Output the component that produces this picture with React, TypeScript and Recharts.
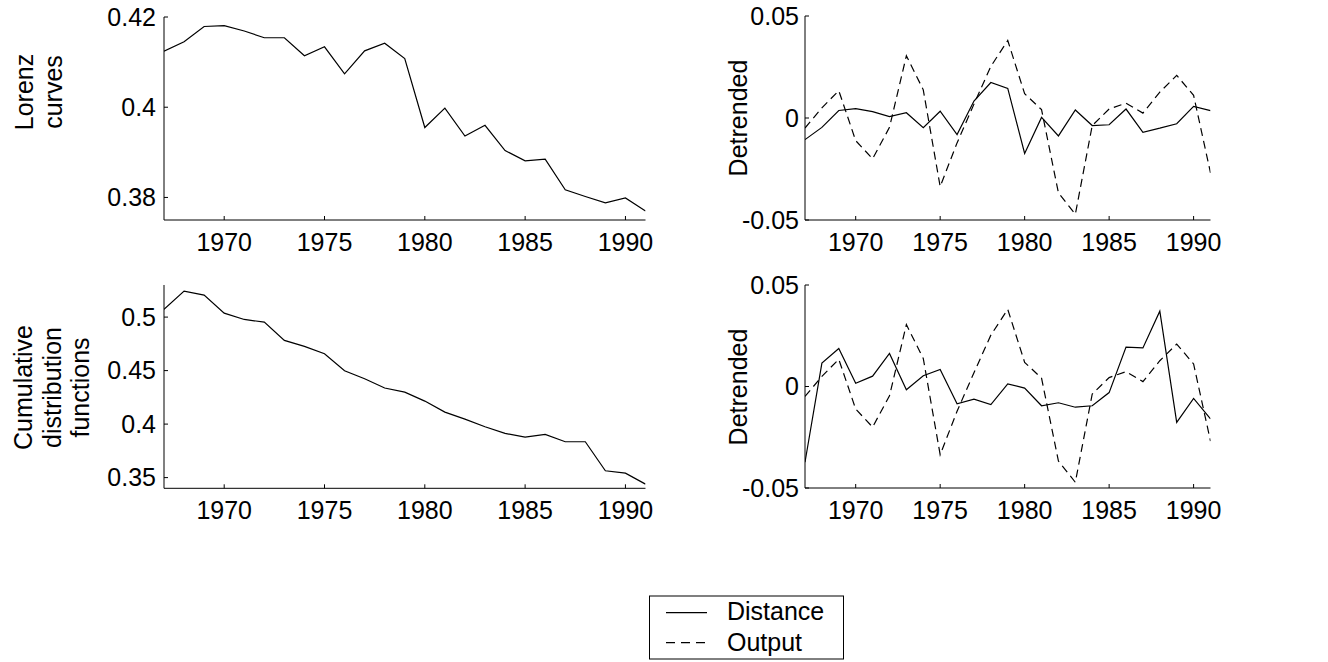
import React from 'react';
import { LineChart, Line, XAxis, YAxis } from 'recharts';

const years = [1967, 1968, 1969, 1970, 1971, 1972, 1973, 1974, 1975, 1976, 1977, 1978, 1979, 1980, 1981, 1982, 1983, 1984, 1985, 1986, 1987, 1988, 1989, 1990, 1991];

const lorenz = [0.4124, 0.4145, 0.4179, 0.4181, 0.4169, 0.4154, 0.4154, 0.4114, 0.4134, 0.4074, 0.4125, 0.4142, 0.4108, 0.3955, 0.3998, 0.3936, 0.396, 0.3904, 0.3881, 0.3885, 0.3817, 0.3802, 0.3788, 0.3799, 0.377];

const cdf = [0.5072, 0.5243, 0.5206, 0.5037, 0.4978, 0.4953, 0.4782, 0.4726, 0.4657, 0.4499, 0.4424, 0.4337, 0.4299, 0.4215, 0.4112, 0.4047, 0.3975, 0.3913, 0.3879, 0.3904, 0.3835, 0.3835, 0.3564, 0.3542, 0.3439];

const distanceLorenzDetrended = [-0.0106, -0.0046, 0.0037, 0.0046, 0.0031, 0.0007, 0.0026, -0.0047, 0.0033, -0.0081, 0.0083, 0.0174, 0.0145, -0.0174, 0.0003, -0.0088, 0.0039, -0.0037, -0.0033, 0.0044, -0.007, -0.005, -0.0028, 0.0057, 0.0036];

const distanceCdfDetrended = [-0.0373, 0.0115, 0.0187, 0.0016, 0.0051, 0.0163, -0.0016, 0.0053, 0.0084, -0.0085, -0.0062, -0.0089, 0.0013, -0.0008, -0.0095, -0.008, -0.0102, -0.0095, -0.003, 0.0194, 0.019, 0.0371, -0.0177, -0.0059, -0.0159];

const outputDetrended = [-0.0049, 0.005, 0.0134, -0.0111, -0.02, -0.0046, 0.0305, 0.0138, -0.0336, -0.0122, 0.0068, 0.0253, 0.038, 0.0119, 0.0041, -0.0367, -0.0472, -0.0037, 0.0044, 0.0073, 0.0024, 0.0127, 0.0209, 0.0111, -0.0269];

const xTicks = [1970, 1975, 1980, 1985, 1990];
const lorenzTicks = [0.38, 0.4, 0.42];
const cdfTicks = [0.35, 0.4, 0.45, 0.5];
const detrendedTicks = [-0.05, 0, 0.05];

const lorenzData = years.map((y, i) => ({ year: y, v: lorenz[i] }));
const cdfData = years.map((y, i) => ({ year: y, v: cdf[i] }));
const detLorenzData = years.map((y, i) => ({ year: y, d: distanceLorenzDetrended[i], o: outputDetrended[i] }));
const detCdfData = years.map((y, i) => ({ year: y, d: distanceCdfDetrended[i], o: outputDetrended[i] }));

const FONT = '"Liberation Sans", Arial, Helvetica, sans-serif';
const FS = 25;
const DASH = '8 5';

type LineDef = { key: string; dash?: string };

function Panel(props: {
  plotX: number; plotY: number; plotW: number; plotH: number;
  data: any[]; lines: LineDef[]; yDomain: [number, number]; yTicks: number[]; yTickMargin: number;
}) {
  const yAxisW = 110;
  const mt = 24;
  const mr = 30;
  const xAxisH = 45;
  const { plotX, plotY, plotW, plotH } = props;
  const tickStyle = { fill: '#000', fontSize: FS, fontFamily: FONT };
  return (
    <div style={{ position: 'absolute', left: plotX - yAxisW, top: plotY - mt }}>
      <LineChart
        width={yAxisW + plotW + mr}
        height={mt + plotH + xAxisH}
        data={props.data}
        margin={{ top: mt, right: mr, bottom: 0, left: 0 }}
      >
        <XAxis
          dataKey="year"
          type="number"
          domain={[1967, 1991]}
          ticks={xTicks}
          allowDataOverflow
          height={xAxisH}
          tick={tickStyle}
          tickSize={-4}
          tickMargin={17}
          axisLine={{ stroke: '#000', strokeWidth: 1 }}
          tickLine={{ stroke: '#000', strokeWidth: 1 }}
          interval={0}
        />
        <YAxis
          type="number"
          domain={props.yDomain}
          ticks={props.yTicks}
          allowDataOverflow
          width={yAxisW}
          tick={tickStyle}
          tickSize={-4}
          tickMargin={props.yTickMargin}
          axisLine={{ stroke: '#000', strokeWidth: 1 }}
          tickLine={{ stroke: '#000', strokeWidth: 1 }}
          interval={0}
        />
        {props.lines.map((l) => (
          <Line
            key={l.key}
            dataKey={l.key}
            type="linear"
            stroke="#000"
            strokeWidth={1.2}
            strokeDasharray={l.dash}
            dot={false}
            activeDot={false}
            isAnimationActive={false}
          />
        ))}
      </LineChart>
    </div>
  );
}

export default function App() {
  return (
    <div style={{ position: 'absolute', left: 0, top: 0, width: 1328, height: 662, background: '#fff', fontFamily: FONT }}>
      <Panel plotX={164} plotY={16.7} plotW={481.5} plotH={203} data={lorenzData}
        lines={[{ key: 'v' }]} yDomain={[0.375, 0.42]} yTicks={lorenzTicks} yTickMargin={12} />
      <Panel plotX={164} plotY={285} plotW={481.5} plotH={203.3} data={cdfData}
        lines={[{ key: 'v' }]} yDomain={[0.34, 0.53]} yTicks={cdfTicks} yTickMargin={12} />
      <Panel plotX={805} plotY={16} plotW={405.5} plotH={204} data={detLorenzData}
        lines={[{ key: 'd' }, { key: 'o', dash: DASH }]} yDomain={[-0.05, 0.05]} yTicks={detrendedTicks} yTickMargin={10} />
      <Panel plotX={805} plotY={285.3} plotW={405.5} plotH={203} data={detCdfData}
        lines={[{ key: 'd' }, { key: 'o', dash: DASH }]} yDomain={[-0.05, 0.05]} yTicks={detrendedTicks} yTickMargin={10} />

      <svg width={1328} height={662} style={{ position: 'absolute', left: 0, top: 0, pointerEvents: 'none' }}
        fontFamily={FONT} fontSize={FS} fill="#000">
        <text transform="translate(33,92) rotate(-90)" textAnchor="middle">Lorenz</text>
        <text transform="translate(61.5,92) rotate(-90)" textAnchor="middle">curves</text>
        <text transform="translate(32,387.5) rotate(-90)" textAnchor="middle">Cumulative</text>
        <text transform="translate(60.5,387.5) rotate(-90)" textAnchor="middle">distribution</text>
        <text transform="translate(89,387.5) rotate(-90)" textAnchor="middle">functions</text>
        <text transform="translate(747,118) rotate(-90)" textAnchor="middle">Detrended</text>
        <text transform="translate(747,387) rotate(-90)" textAnchor="middle">Detrended</text>

        <rect x={649.5} y={596} width={194} height={63} fill="#fff" stroke="#000" strokeWidth={1} />
        <line x1={666} y1={612.7} x2={707} y2={612.7} stroke="#000" strokeWidth={1.2} />
        <text x={727} y={620}>Distance</text>
        <line x1={666} y1={642.7} x2={707} y2={642.7} stroke="#000" strokeWidth={1.2} strokeDasharray="9 6" />
        <text x={727} y={651}>Output</text>
      </svg>
    </div>
  );
}
